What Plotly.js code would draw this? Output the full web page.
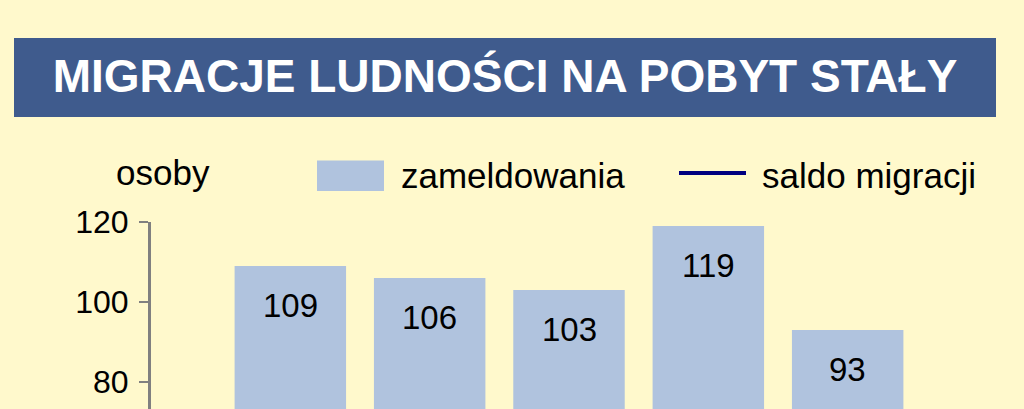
<!DOCTYPE html>
<html>
<head>
<meta charset="utf-8">
<script src="https://cdn.plot.ly/plotly-3.0.1.min.js"></script>
<style>
  html, body { margin: 0; padding: 0; background: #FFF9CC; overflow: hidden; }
  #graph { width: 1024px; height: 409px; }
</style>
</head>
<body>
<div id="graph"></div>
<script>
// values (only the top of the chart is visible)
const categories = [0, 1, 2, 3, 4];
const zameldowania = [109, 106, 103, 119, 93];
const yTicks = [80, 100, 120];

const font = 'Liberation Sans, Arial, sans-serif';

// plot area: x 150..986 px, y 222..409 px
const px = v => (v - 150) / 836;
const py = v => (409 - v) / 187;

const bars = {
    x: categories,
    y: zameldowania,
    type: 'bar',
    width: 0.8,
    marker: {color: '#B0C3DE'},
    hoverinfo: 'y',
    showlegend: false
};

const barLabels = categories.map((c, i) => ({
    x: c,
    y: zameldowania[i],
    xref: 'x',
    yref: 'y',
    text: String(zameldowania[i]),
    showarrow: false,
    yshift: -39,
    yanchor: 'middle',
    font: {family: font, size: 33, color: '#000'}
}));

const layout = {
    width: 1024,
    height: 409,
    margin: {l: 151, r: 37, t: 222, b: 0},
    paper_bgcolor: '#FFF9CC',
    plot_bgcolor: '#FFF9CC',
    showlegend: false,
    title: {
        text: '<b>MIGRACJE LUDNOŚCI NA POBYT STAŁY</b>',
        font: {family: font, size: 46, color: '#FFFFFF'},
        xref: 'container',
        yref: 'container',
        x: 505 / 1024,
        xanchor: 'center',
        y: 1 - 76 / 409,
        yanchor: 'middle'
    },
    xaxis: {
        range: [-1, 5],
        showticklabels: false,
        showline: false,
        showgrid: false,
        zeroline: false,
        ticks: ''
    },
    yaxis: {
        range: [73.25, 120],
        tickvals: yTicks,
        showline: true,
        linecolor: '#808080',
        linewidth: 3,
        ticks: 'outside',
        ticklen: 9,
        tickwidth: 2,
        tickcolor: '#808080',
        ticklabelstandoff: 4,
        showgrid: false,
        zeroline: false,
        tickfont: {family: font, size: 32, color: '#000'}
    },
    shapes: [
        // title banner
        {type: 'rect', xref: 'paper', yref: 'paper', layer: 'below',
         x0: px(13), x1: px(995), y0: py(117), y1: py(38),
         fillcolor: '#3F5B8D', line: {width: 0}},
        // legend swatches
        {type: 'rect', xref: 'paper', yref: 'paper',
         x0: px(316), x1: px(383), y0: py(191), y1: py(160.5),
         fillcolor: '#B0C3DE', line: {width: 0}},
        {type: 'line', xref: 'paper', yref: 'paper',
         x0: px(678), x1: px(745), y0: py(173), y1: py(173),
         line: {color: '#000080', width: 4}}
    ],
    annotations: barLabels.concat([
        {x: px(162), y: py(172), xref: 'paper', yref: 'paper', text: 'osoby',
         showarrow: false, xanchor: 'center', yanchor: 'middle',
         font: {family: font, size: 35, color: '#000'}},
        {x: px(398), y: py(175), xref: 'paper', yref: 'paper', text: 'zameldowania',
         showarrow: false, xanchor: 'left', yanchor: 'middle',
         font: {family: font, size: 35, color: '#000'}},
        {x: px(759), y: py(175), xref: 'paper', yref: 'paper', text: 'saldo migracji',
         showarrow: false, xanchor: 'left', yanchor: 'middle',
         font: {family: font, size: 35, color: '#000'}}
    ])
};

Plotly.newPlot('graph', [bars], layout, {displayModeBar: false, staticPlot: true});
</script>
</body>
</html>
